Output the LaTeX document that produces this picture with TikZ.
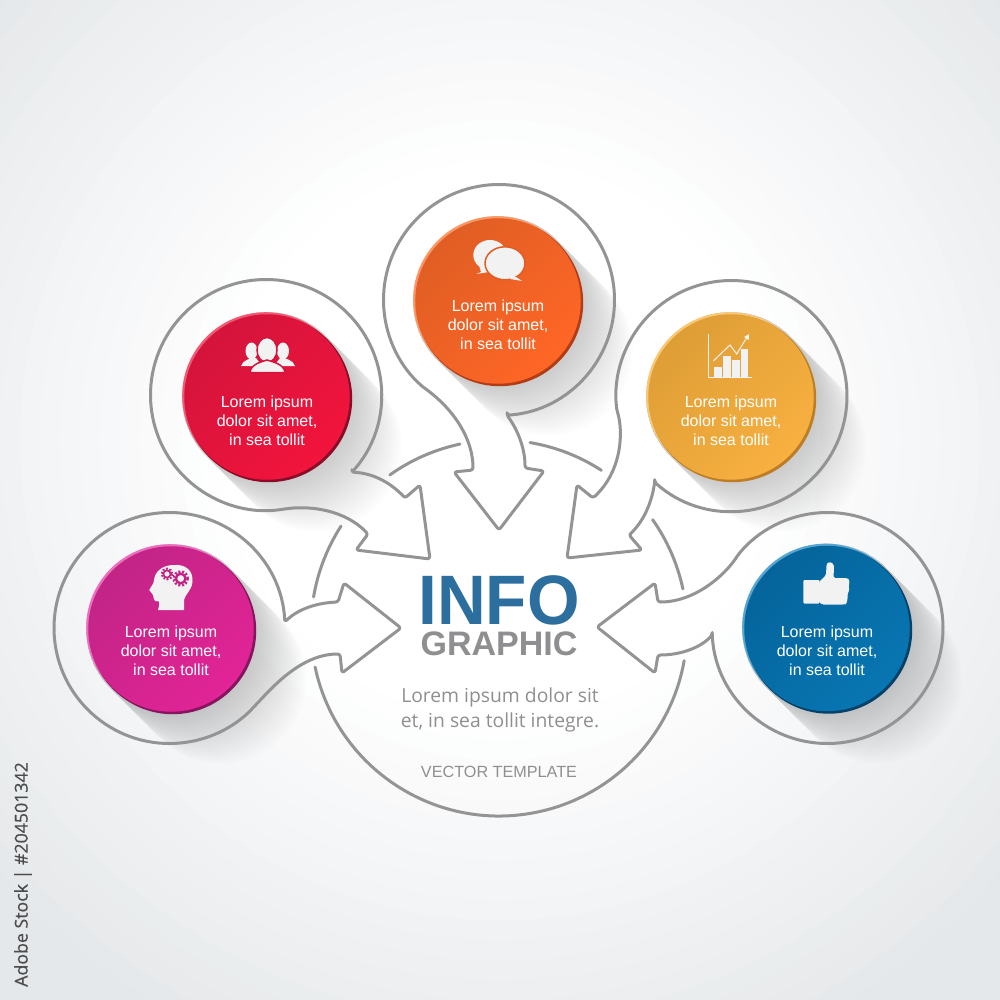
\documentclass[tikz,border=0pt]{standalone}
\usepackage{fontspec}
\usepackage{graphicx}
\setmainfont{Liberation Sans}
\newfontfamily\bodyfont{Open Sans}
\newfontfamily\stockfont[FakeBold=0.5]{Open Sans}
\definecolor{linegray}{RGB}{148,148,150}
\definecolor{bgedge}{RGB}{229,232,234}
\definecolor{infoblue}{RGB}{44,110,158}
\definecolor{graytxt}{RGB}{143,143,145}
\definecolor{iconw}{RGB}{242,242,242}
\tikzset{
  outline/.style={draw=linegray,line width=3pt,line join=round,rounded corners=2.5pt},
  arcline/.style={draw=linegray,line width=3pt,line cap=round},
  rimshape/.style={circle,inner sep=0pt,minimum size=167pt},
  faceshape/.style={circle,inner sep=0pt,minimum size=165.5pt},
  lbl/.style={text=white,align=center,font=\fontsize{16}{19}\selectfont},
  icon/.style={fill=iconw,draw=none},
}
\newcommand{\longshadow}[1]{%
  \foreach \d in {2,4,...,50}
    \draw[black,opacity=0.0095,line width=170pt,line cap=round] (#1) -- ++(\d,\d);%
}
\newcommand{\disc}[8]{% name, x, y, rim light, rim dark, face a, face b, text dy
  \node[rimshape,fill=#4] (#1light) at (#2-1.3,#3-1.3) {};
  \node[rimshape,fill=#5] (#1dark) at (#2+1.7,#3+1.7) {};
  \node[faceshape,left color=#6,right color=#7,shading angle=45] (#1) at (#2,#3) {};
  \node[lbl] (#1text) at (#2,#3+#8) {Lorem ipsum\\dolor sit amet,\\in sea tollit};
}
\definecolor{rl}{RGB}{242,90,115}\definecolor{rd}{RGB}{140,12,40}
\definecolor{ra}{RGB}{212,20,60}\definecolor{rb}{RGB}{242,20,60}
\definecolor{ol}{RGB}{252,150,100}\definecolor{od}{RGB}{180,60,20}
\definecolor{oa}{RGB}{224,94,36}\definecolor{ob}{RGB}{255,102,38}
\definecolor{yl}{RGB}{250,200,115}\definecolor{yd}{RGB}{190,125,35}
\definecolor{ya}{RGB}{222,158,54}\definecolor{yb}{RGB}{248,176,64}
\definecolor{ml}{RGB}{238,110,190}\definecolor{md}{RGB}{135,20,95}
\definecolor{ma}{RGB}{194,36,134}\definecolor{mb}{RGB}{226,36,150}
\definecolor{bl}{RGB}{85,165,210}\definecolor{bd}{RGB}{5,65,105}
\definecolor{ba}{RGB}{5,100,155}\definecolor{bb}{RGB}{8,118,178}
\begin{document}
\begin{tikzpicture}[x=1pt,y=1pt,yscale=-1]
\useasboundingbox (0,0) rectangle (1000,1000);
\begin{scope}
  \clip (0,0) rectangle (1000,1000);
  \fill[bgedge] (0,0) rectangle (1000,1000);
  \foreach \rr/\p in {680/0,660/5,640/10,620/15,600/20,580/25,560/30,540/35,520/40,500/45,480/50,460/55,440/60,420/65,400/70,380/75,360/80,340/85,320/90,300/95,280/100}
    \fill[white!\p!bgedge] (500,440) circle[radius=\rr];
\end{scope}
% centres
\coordinate (R) at (266,395);
\coordinate (O) at (499,300);
\coordinate (Y) at (731.5,396);
\coordinate (M) at (169.5,628);
\coordinate (B) at (827.5,628);
\coordinate (C) at (499,628);
% long shadows
\longshadow{267,397}
\longshadow{498,301}
\longshadow{731,397}
\longshadow{171,629}
\longshadow{827,628.5}
% centre circle pieces
\draw[arcline] (C) ++(168:188) arc[start angle=168,end angle=10,radius=188];
\draw[arcline] (C) ++(-147.2:188) arc[start angle=-147.2,end angle=-170.5,radius=188];
\draw[arcline] (C) ++(-125.5:188) arc[start angle=-125.5,end angle=-102,radius=188];
\draw[arcline] (C) ++(-80.5:188) arc[start angle=-80.5,end angle=-57,radius=188];
\draw[arcline] (C) ++(-35.2:188) arc[start angle=-35.2,end angle=-12,radius=188];
% outlines
\draw[outline] (O) ++(86:115.5) arc[start angle=86,end angle=-229,radius=115.5]
  .. controls (455,410) and (473,440) .. (473,470) -- (454,472) -- (499,530) -- (544,471) -- (525,468)
  .. controls (525,450) and (519,432) .. cycle;
\draw[outline] (R) ++(42:115.5) arc[start angle=42,end angle=-278,radius=115.5]
  .. controls (310,505) and (345,510) .. (368,534) -- (356,550) -- (430,559) -- (420,485) -- (405,498)
  .. controls (390,482) and (372,473) .. cycle;
\draw[outline] (Y) ++(131.7:115.5) arc[start angle=131.7,end angle=-187,radius=115.5]
  .. controls (623,430) and (623,470) .. (593,498) -- (577,485) -- (567,558) -- (642,550) -- (629,535)
  .. controls (645,520) and (652,500) .. cycle;
\draw[outline] (M) ++(-3:115.5) arc[start angle=-3,end angle=-317.4,radius=115.5]
  .. controls (270,690) and (300,654) .. (340,654) -- (342,673) -- (401,628) -- (344,583) -- (338,602)
  .. controls (315,603) and (297,610) .. cycle;
\draw[outline] (B) ++(176.5:115.5) arc[start angle=176.5,end angle=-141,radius=115.5]
  .. controls (725,575) and (695,602) .. (658,602) -- (655,583) -- (597,627) -- (655,673) -- (658,655)
  .. controls (680,655) and (700,648) .. cycle;
% discs
\disc{red}{267}{397}{rl}{rd}{ra}{rb}{24}
\disc{orange}{498}{301}{ol}{od}{oa}{ob}{24}
\disc{yellow}{731}{397}{yl}{yd}{ya}{yb}{24}
\disc{magenta}{171}{629}{ml}{md}{ma}{mb}{22}
\disc{blue}{827}{628.5}{bl}{bd}{ba}{bb}{22.5}
% icon: people
\fill[icon] (251.5,351) ellipse[x radius=6,y radius=8.5];
\fill[icon] (283,351) ellipse[x radius=6,y radius=8.5];
\fill[icon] (241,366) .. controls (243,360) and (250,358) .. (256,358) -- (262,366) -- cycle;
\fill[icon] (295,366) .. controls (293,360) and (286,358) .. (280,358) -- (274,366) -- cycle;
\draw[icon,draw=ra,line width=1.5pt] (267,350) ellipse[x radius=10,y radius=12.5];
\draw[icon,draw=ra,line width=1.5pt] (250,372.5) .. controls (251,364) and (261,362) .. (267,360) .. controls (273,362) and (284,364) .. (285,372.5) -- cycle;
% icon: bubbles
\fill[icon] (490,255) ellipse[x radius=16.7,y radius=15];
\fill[icon] (478,262) -- (481,272) -- (476.5,274) -- (489,272) -- cycle;
\draw[icon,draw=oa,line width=1.5pt] (505,263.3) ellipse[x radius=20,y radius=16.5];
\fill[icon] (512,276) -- (516,277) -- (522,281) -- (510,279) -- cycle;
% icon: chart
\draw[iconw,line width=1pt] (708.7,334) -- (708.7,377) -- (751.7,377);
\fill[iconw] (714,367.3) rectangle (721.7,377);
\fill[iconw] (723.3,356) rectangle (730.7,377);
\fill[iconw] (732,360) rectangle (740,377);
\fill[iconw] (740.7,349.3) rectangle (747.7,377);
\draw[iconw,line width=1pt] (713.3,361) -- (730,345) -- (736.7,354) -- (747.7,336);
\fill[iconw] (749,334) -- (748.7,340) -- (744,337) -- cycle;
% icon: thumb
\fill[icon,rounded corners=1pt] (803.3,580) rectangle (819.6,603.5);
\fill[icon,rounded corners=1.5pt] (819,582) -- (826,575) -- (826.5,565) .. controls (828,561.5) and (833,562) .. (834,567) -- (833.5,578) -- (847,578) .. controls (850,580) and (849,585) .. (848,586) .. controls (850,589) and (848,593) .. (847,594) .. controls (848,597) and (847,604) .. (844,604.5) -- (822,604.5) -- (819,602) -- cycle;
% icon: head with gears
\fill[icon] (174,565) .. controls (186,564) and (193,571) .. (192.5,581) .. controls (192.5,590) and (185,594) .. (184,600) -- (184,610) -- (158,610) .. controls (159,606) and (160,603) .. (159,601.5) -- (155,601) .. controls (153,599) and (154,597) .. (153,595) -- (149.3,590) .. controls (151,586) and (154,584) .. (154,580) .. controls (155,571) and (163,565) .. (174,565) -- cycle;
\draw[ma,line width=1.7pt] (167,574) circle[radius=3.6];
\draw[ma,line width=2pt,dash pattern=on 1.8pt off 1.6pt] (167,574) circle[radius=5.4];
\draw[ma,line width=2.4pt] (180.7,578.5) circle[radius=4.8];
\draw[ma,line width=2.4pt,dash pattern=on 2pt off 1.8pt] (180.7,578.5) circle[radius=7];
% centre text
\node[inner sep=0pt,text depth=0pt,text=infoblue,font=\bfseries\fontsize{70}{70}\selectfont] (info) at (499,600) {\scalebox{0.965}[1]{INFO}};
\node[inner sep=0pt,text depth=0pt,text=graytxt,font=\bfseries\fontsize{34}{34}\selectfont] (graphic) at (499,643.5) {GRAPHIC};
\node[text=graytxt,font=\bodyfont\fontsize{19.3}{25}\selectfont,align=center] (body) at (500,710) {Lorem ipsum dolor sit\\et, in sea tollit integre.};
\node[text=graytxt,font=\fontsize{16.2}{18}\selectfont] (vector) at (499,772) {VECTOR TEMPLATE};
\node[rotate=90,anchor=east,inner sep=0pt,text=black!70,font=\stockfont\fontsize{17.75}{18}\selectfont] (stockid) at (23,762) {Adobe Stock | \#204501342};
\end{tikzpicture}
\end{document}
